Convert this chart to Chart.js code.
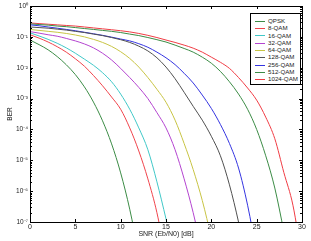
<!DOCTYPE html>
<html>
<head>
<meta charset="utf-8">
<script src="https://cdn.jsdelivr.net/npm/chart.js@4/dist/chart.umd.min.js"></script>
<style>
  body { margin: 0; background: #fff; }
  #wrap { position: relative; width: 311px; height: 241px; }
  #legend {
    position: absolute; left: 250px; top: 13px; width: 49px;
    border: 1px solid #000; background: #fff;
    padding: 3px 0 1px 0;
    font-family: "Liberation Sans", Arial, sans-serif; font-size: 6.2px; color: #222;
  }
  #legend .row { height: 7.3px; line-height: 7.3px; white-space: nowrap; }
  #legend .swatch {
    display: inline-block; width: 10px; height: 0; border-top: 1px solid;
    vertical-align: middle; margin: 0 3px 0 4px;
  }
</style>
</head>
<body>
<div id="wrap">
  <canvas id="berChart" width="311" height="241"></canvas>
  <div id="legend"></div>
</div>
<script>
// SNR (Eb/N0) in dB, one point per dB
const snr = [0,1,2,3,4,5,6,7,8,9,10,11,12,13,14,15,16,17,18,19,20,21,22,23,24,25,26,27,28,29,30];

// BER (last point of each curve lies below 1e-7 and is clipped)
const berQPSK = [0.079,0.056,0.038,0.023,0.0125,0.006,0.0024,7.7e-4,1.9e-4,3.4e-5,3.9e-6,2.6e-7,9e-9];
const ber8 = [0.117,0.091,0.068,0.048,0.032,0.0195,0.0112,0.0056,0.0026,0.00112,4.5e-4,1.12e-4,2.0e-5,2.5e-6,2.0e-7,6.3e-9];
const ber16 = [0.135,0.107,0.083,0.062,0.044,0.0295,0.019,0.012,0.0069,0.0035,0.0014,4.5e-4,1.12e-4,2.2e-5,2.0e-6,1.26e-7,6.3e-9];
const ber32 = [0.148,0.132,0.117,0.105,0.089,0.074,0.059,0.044,0.0295,0.0178,0.0095,0.0048,0.0023,0.001,3.5e-4,1.12e-4,2.2e-5,2.5e-6,2.0e-7,1e-8];
const ber64 = [0.174,0.162,0.151,0.141,0.129,0.115,0.1,0.083,0.066,0.049,0.033,0.02,0.0105,0.0048,0.002,7.6e-4,2.0e-4,3.5e-5,5.0e-6,5.0e-7,3.2e-8];
const ber128 = [0.209,0.2,0.191,0.178,0.166,0.151,0.138,0.123,0.11,0.095,0.081,0.066,0.05,0.035,0.021,0.0105,0.0044,0.0016,5.6e-4,2.0e-4,6.0e-5,1.4e-5,1.6e-6,1.0e-7,4e-9];
const ber256 = [0.245,0.229,0.209,0.191,0.174,0.158,0.141,0.126,0.112,0.098,0.085,0.074,0.06,0.046,0.032,0.021,0.0126,0.0066,0.0032,0.0013,4.8e-4,1.45e-4,3.5e-5,5.6e-6,3.5e-7,1e-8];
const ber512 = [0.263,0.251,0.24,0.224,0.214,0.2,0.186,0.174,0.162,0.151,0.138,0.123,0.11,0.095,0.081,0.068,0.054,0.042,0.032,0.022,0.014,0.0076,0.0035,0.0014,4.5e-4,1.0e-4,1.4e-5,1.26e-6,5e-8];
const ber1024 = [0.282,0.269,0.257,0.245,0.234,0.224,0.209,0.195,0.182,0.17,0.158,0.145,0.129,0.112,0.095,0.079,0.066,0.054,0.043,0.032,0.022,0.015,0.0095,0.0048,0.0022,8.9e-4,2.5e-4,5.0e-5,4.0e-6,3.5e-7,6.3e-9];

const schemes = ['QPSK','8-QAM','16-QAM','32-QAM','64-QAM','128-QAM','256-QAM','512-QAM','1024-QAM'];
const curves = [berQPSK, ber8, ber16, ber32, ber64, ber128, ber256, ber512, ber1024];
const colors = ['#3c8c46','#f0444c','#40c8c8','#b444d0','#c8c444','#505050','#3434e0','#3c8c46','#f03c44'];

const xTicks = [0,5,10,15,20,25,30];
const yDecades = [-7,-6,-5,-4,-3,-2,-1,0];

const FONT = '"Liberation Sans", Arial, sans-serif';
const SUP = {'-':'\u207B','0':'\u2070','1':'\u00B9','2':'\u00B2','3':'\u00B3','4':'\u2074','5':'\u2075','6':'\u2076','7':'\u2077','8':'\u2078','9':'\u2079'};
const sup = (n) => String(n).split('').map(c => SUP[c]).join('');

// box round the plot and inward ticks on all four sides, MATLAB style
const boxTicks = {
    id: 'boxTicks',
    afterDraw(chart) {
        const { ctx, chartArea: a, scales } = chart;
        ctx.save();
        ctx.strokeStyle = '#000';
        ctx.lineWidth = 1;
        ctx.strokeRect(a.left + 0.5, a.top + 0.5, a.right - a.left, a.bottom - a.top);
        ctx.beginPath();
        xTicks.forEach(v => {
            const px = Math.round(scales.x.getPixelForValue(v)) + 0.5;
            ctx.moveTo(px, a.bottom); ctx.lineTo(px, a.bottom - 3);
            ctx.moveTo(px, a.top); ctx.lineTo(px, a.top + 3);
        });
        yDecades.forEach(d => {
            const py = Math.round(scales.y.getPixelForValue(Math.pow(10, d))) + 0.5;
            ctx.moveTo(a.left, py); ctx.lineTo(a.left + 3, py);
            ctx.moveTo(a.right, py); ctx.lineTo(a.right - 3, py);
            if (d === 0) return;
            for (let m = 2; m <= 9; m++) {
                const pm = Math.round(scales.y.getPixelForValue(m * Math.pow(10, d))) + 0.5;
                ctx.moveTo(a.left, pm); ctx.lineTo(a.left + 2, pm);
                ctx.moveTo(a.right, pm); ctx.lineTo(a.right - 2, pm);
            }
        });
        ctx.stroke();
        ctx.restore();
    }
};

const chart = new Chart(document.getElementById('berChart'), {
    type: 'line',
    data: {
        labels: snr,
        datasets: schemes.map((name, i) => ({
            label: name,
            data: curves[i],
            borderColor: colors[i],
            backgroundColor: colors[i],
            borderWidth: 1,
            pointRadius: 0,
            cubicInterpolationMode: 'monotone',
            fill: false
        }))
    },
    options: {
        responsive: false,
        animation: false,
        devicePixelRatio: 1,
        layout: { padding: { top: 6, right: 9, left: 0, bottom: 0 } },
        plugins: { legend: { display: false }, tooltip: { enabled: false } },
        scales: {
            x: {
                type: 'linear',
                min: 0, max: 30,
                grid: { display: false, drawTicks: false },
                border: { display: false },
                afterBuildTicks: (s) => { s.ticks = xTicks.map(v => ({ value: v })); },
                afterFit: (s) => { s.height = 19; },
                ticks: { padding: 1, color: '#222', font: { family: FONT, size: 7 }, maxRotation: 0 },
                title: { display: true, text: 'SNR (Eb/N0) [dB]', color: '#222',
                         font: { family: FONT, size: 7 }, padding: { top: 0, bottom: 3 } }
            },
            y: {
                type: 'logarithmic',
                min: 1e-7, max: 1,
                grid: { display: false, drawTicks: false },
                border: { display: false },
                afterBuildTicks: (s) => { s.ticks = yDecades.map(d => ({ value: Math.pow(10, d) })); },
                afterFit: (s) => { s.width = 30; },
                ticks: {
                    padding: 2, color: '#222', font: { family: FONT, size: 6.5 },
                    callback: (v) => '10' + sup(Math.round(Math.log10(v)))
                },
                title: { display: true, text: 'BER', color: '#222',
                         font: { family: FONT, size: 6.5 }, padding: { top: 6, bottom: 0 } }
            }
        }
    },
    plugins: [boxTicks]
});

// legend inside the plot, built from the datasets
const legend = document.getElementById('legend');
chart.data.datasets.forEach(ds => {
    const row = document.createElement('div');
    row.className = 'row';
    const sw = document.createElement('span');
    sw.className = 'swatch';
    sw.style.borderTopColor = ds.borderColor;
    row.appendChild(sw);
    row.appendChild(document.createTextNode(ds.label));
    legend.appendChild(row);
});
</script>
</body>
</html>
